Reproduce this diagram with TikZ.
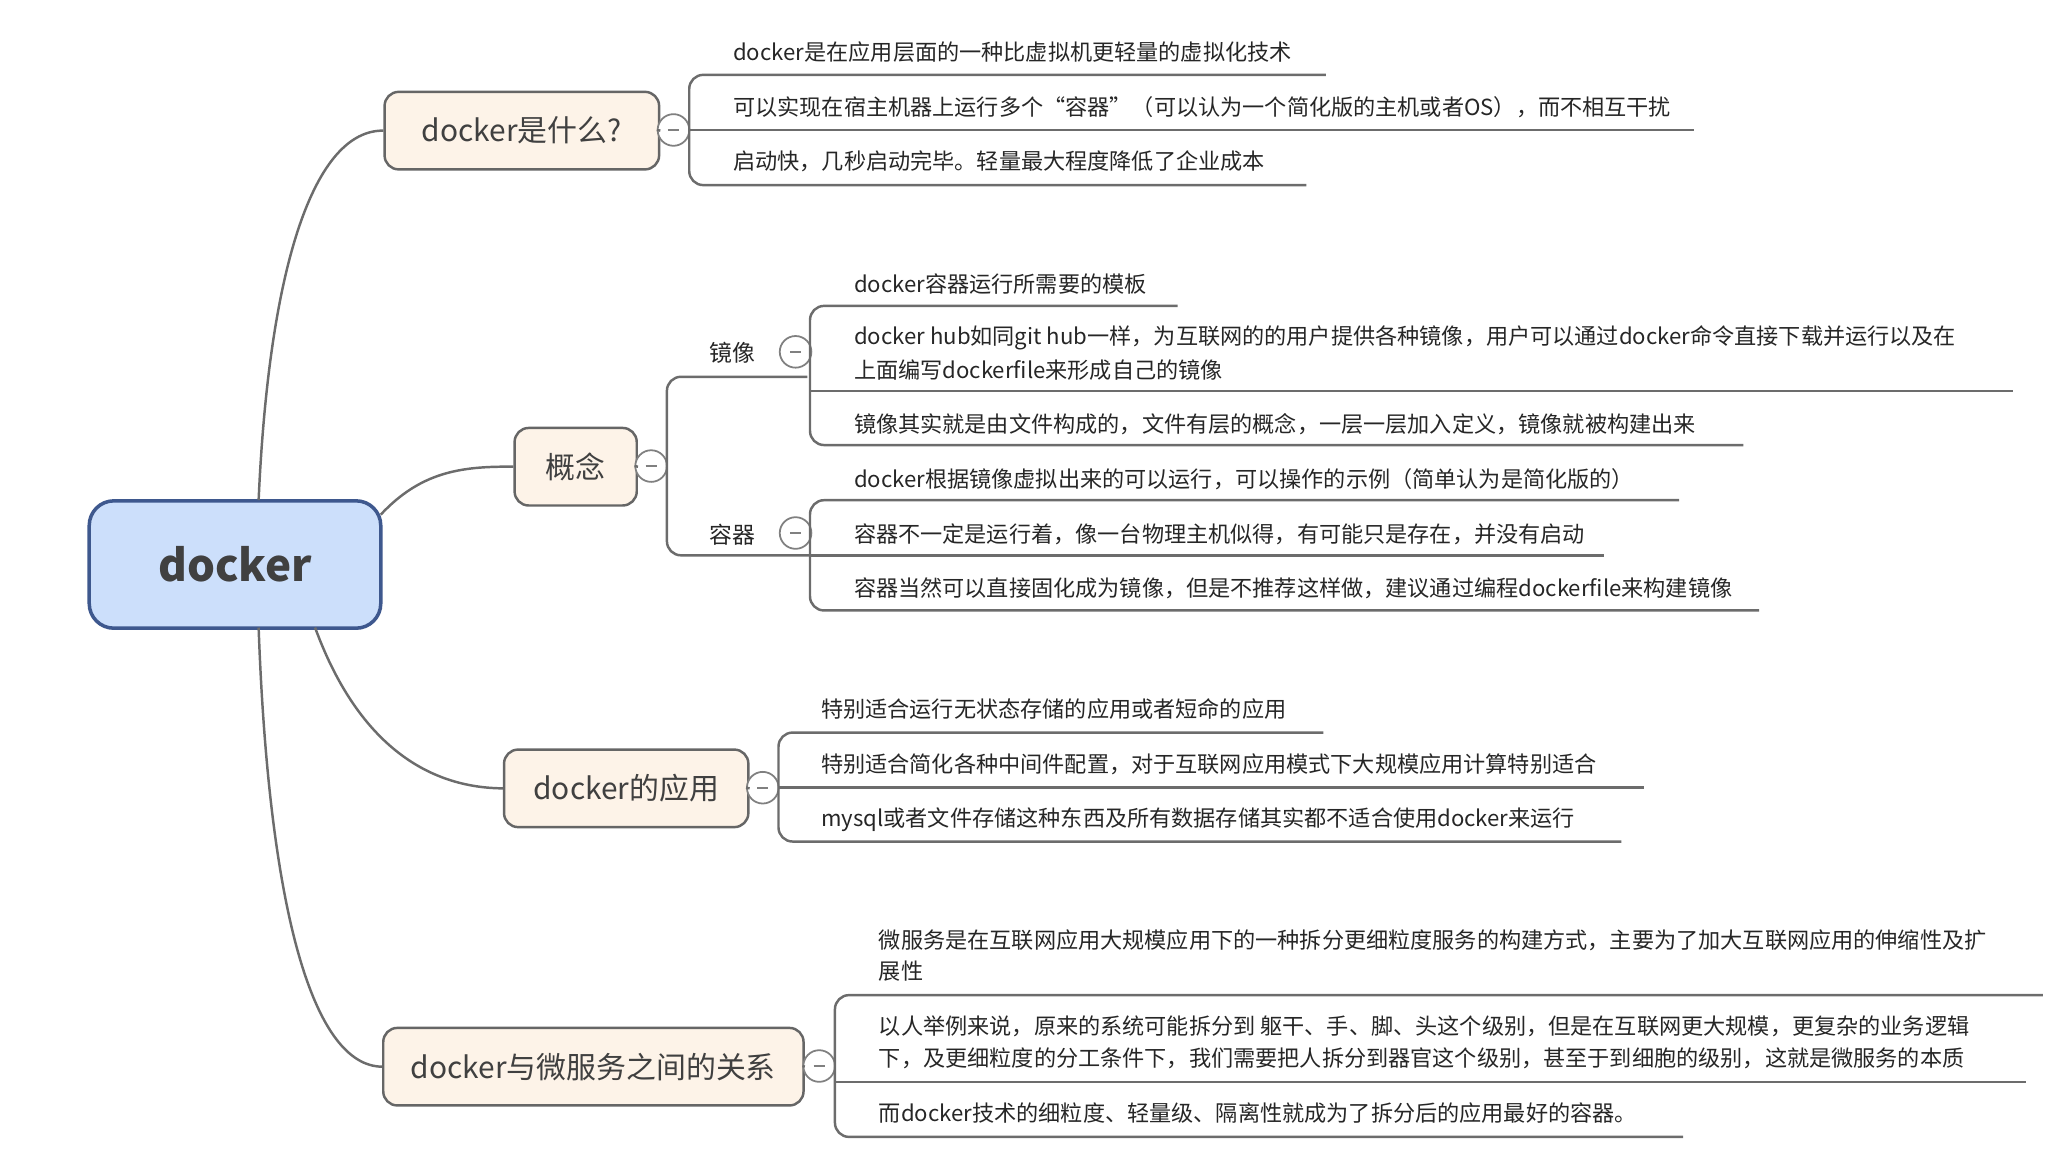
\documentclass[tikz,border=0pt]{standalone}
\usepackage{fontspec}
\setmainfont{Noto Sans CJK SC}
\definecolor{rootfill}{RGB}{204,223,251}
\definecolor{rootdraw}{RGB}{62,88,142}
\definecolor{brfill}{RGB}{253,243,232}
\begin{document}
\begin{tikzpicture}[x=0.013128cm,y=-0.013128cm,
  conn/.style={draw=gray!85!black,line width=0.7pt},
  brk/.style={draw=gray!85!black,line width=0.7pt,rounded corners=4pt},
  ul/.style={draw=gray!85!black,line width=0.7pt},
  leaf/.style={anchor=west,inner sep=0pt,font=\fontsize{6.3pt}{8.4pt}\selectfont,text=black!85},
  sub/.style={anchor=center,inner sep=0pt,font=\fontsize{6.5pt}{8pt}\selectfont,text=black!85},
  br/.style={draw=gray!80!black,fill=brfill,rounded corners=4pt,line width=0.7pt,font=\fontsize{8.5pt}{10pt}\selectfont,text=black!75},
  tog/.style={circle,draw=gray,fill=white,minimum size=9pt,inner sep=0pt,line width=0.5pt,path picture={\draw[gray,line width=0.6pt] ([xshift=-1.6pt]path picture bounding box.center) -- ([xshift=1.6pt]path picture bounding box.center);}}]
\useasboundingbox (0,0) rectangle (1560,892);
% root
\node[draw=rootdraw,fill=rootfill,rounded corners=7pt,line width=1pt,minimum width=2.914cm,minimum height=1.273cm,font=\fontsize{12.5pt}{14pt}\selectfont\bfseries,text=black!75] (root) at (179,430) {docker};
% branch nodes
\node[br,minimum width=2.744cm,minimum height=0.775cm] (b1) at (397.5,99.5) {docker是什么?};
\node[br,minimum width=1.221cm,minimum height=0.775cm] (b2) at (438.5,355.5) {概念};
\node[br,minimum width=2.442cm,minimum height=0.775cm] (b3) at (477,600.5) {docker的应用};
\node[br,minimum width=4.201cm,minimum height=0.775cm] (b4) at (452,812.5) {docker与微服务之间的关系};
% root connectors
\coordinate (r1) at (197,381);
\coordinate (r2) at (290,392);
\coordinate (r3) at (240,478);
\coordinate (r4) at (197,478);
\draw[conn] (r1) .. controls (205,200) and (240,99) .. (b1.west);
\draw[conn] (r2) .. controls (320,360) and (350,355) .. (b2.west);
\draw[conn] (r3) .. controls (270,560) and (320,600) .. (b3.west);
\draw[conn] (r4) .. controls (205,700) and (240,812) .. (b4.west);
% toggles
\node[tog] (t1) at (513,99) {};
\node[tog] (t2) at (496,355) {};
\node[tog] (t3) at (581,600) {};
\node[tog] (t4) at (624,812) {};
\node[tog] (t5) at (606,268) {};
\node[tog] (t6) at (606,406) {};
\draw[conn] (b1.east) -- (t1.west);
\draw[conn] (b2.east) -- (t2.west);
\draw[conn] (b3.east) -- (t3.west);
\draw[conn] (b4.east) -- (t4.west);
% branch 1
\draw[brk] (1010,57) -- (525,57) -- (525,141) -- (995,141);
\draw[ul] (t1.east) -- (1290,99);
\node[leaf] (l11) at (558,40) {docker是在应用层面的一种比虚拟机更轻量的虚拟化技术};
\node[leaf] (l12) at (558,82) {可以实现在宿主机器上运行多个“容器”（可以认为一个简化版的主机或者OS），而不相互干扰};
\node[leaf] (l13) at (558,123) {启动快，几秒启动完毕。轻量最大程度降低了企业成本};
% branch 2
\draw[conn] (t2.east) -- (508,355);
\draw[brk] (615,287) -- (508,287) -- (508,423) -- (617,423);
\node[sub] (s1) at (558,269) {镜像};
\node[sub] (s2) at (558,407) {容器};
\draw[brk] (897,233) -- (617,233) -- (617,339) -- (1328,339);
\draw[ul] (617,298) -- (1533,298);
\node[leaf] (l21) at (650,216) {docker容器运行所需要的模板};
\node[leaf] (l22) at (650,257) {docker hub如同git hub一样，为互联网的的用户提供各种镜像，用户可以通过docker命令直接下载并运行以及在};
\node[leaf] (l22b) at (650,282) {上面编写dockerfile来形成自己的镜像};
\node[leaf] (l23) at (650,323) {镜像其实就是由文件构成的，文件有层的概念，一层一层加入定义，镜像就被构建出来};
\draw[brk] (1279,381) -- (617,381) -- (617,465) -- (1340,465);
\draw[ul] (617,423) -- (1222,423);
\node[leaf] (l24) at (650,365) {docker根据镜像虚拟出来的可以运行，可以操作的示例（简单认为是简化版的）};
\node[leaf] (l25) at (650,407) {容器不一定是运行着，像一台物理主机似得，有可能只是存在，并没有启动};
\node[leaf] (l26) at (650,448) {容器当然可以直接固化成为镜像，但是不推荐这样做，建议通过编程dockerfile来构建镜像};
% branch 3
\draw[brk] (1008,558) -- (593,558) -- (593,641) -- (1235,641);
\draw[ul] (t3.east) -- (1252,600);
\node[leaf] (l31) at (625,540) {特别适合运行无状态存储的应用或者短命的应用};
\node[leaf] (l32) at (625,582) {特别适合简化各种中间件配置，对于互联网应用模式下大规模应用计算特别适合};
\node[leaf] (l33) at (625,624) {mysql或者文件存储这种东西及所有数据存储其实都不适合使用docker来运行};
% branch 4
\draw[brk] (1556,758) -- (636,758) -- (636,866) -- (1282,866);
\draw[ul] (636,824) -- (1543,824);
\draw[conn] (t4.east) -- (636,812);
\node[leaf] (l41) at (669,716) {微服务是在互联网应用大规模应用下的一种拆分更细粒度服务的构建方式，主要为了加大互联网应用的伸缩性及扩};
\node[leaf] (l41b) at (669,740) {展性};
\node[leaf] (l42) at (669,782) {以人举例来说，原来的系统可能拆分到 躯干、手、脚、头这个级别，但是在互联网更大规模，更复杂的业务逻辑};
\node[leaf] (l42b) at (669,806) {下，及更细粒度的分工条件下，我们需要把人拆分到器官这个级别，甚至于到细胞的级别，这就是微服务的本质};
\node[leaf] (l43) at (669,848) {而docker技术的细粒度、轻量级、隔离性就成为了拆分后的应用最好的容器。};
\end{tikzpicture}
\end{document}
